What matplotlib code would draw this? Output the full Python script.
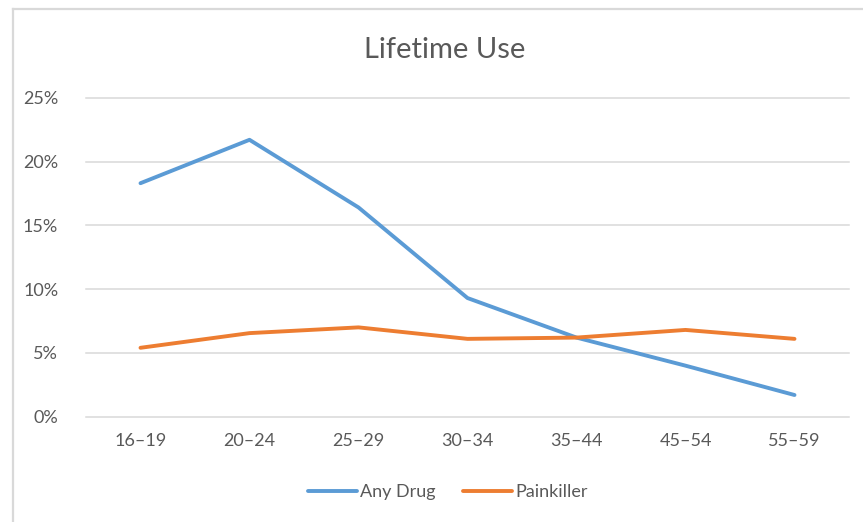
import matplotlib
matplotlib.use("Agg")
import matplotlib.pyplot as plt
from matplotlib.lines import Line2D
from matplotlib.ticker import FuncFormatter

plt.rcParams['font.family'] = ['Lato', 'DejaVu Sans']

age_groups = ["16–19", "20–24", "25–29", "30–34", "35–44", "45–54", "55–59"]
any_drug = [18.3, 21.7, 16.4, 9.3, 6.2, 4.0, 1.7]
painkiller = [5.4, 6.55, 7.0, 6.1, 6.2, 6.8, 6.1]
y_ticks = [0, 5, 10, 15, 20, 25]

text_col = "#595959"
grid_col = "#d9d9d9"

fig = plt.figure(figsize=(8.63, 5.22), dpi=100)
ax = fig.add_axes([86 / 863, 1 - 416.7 / 522, (849 - 86) / 863, (416.7 - 97.7) / 522])

x = list(range(len(age_groups)))
ax.plot(x, any_drug, color="#5B9BD5", lw=2.8, solid_capstyle="round",
        solid_joinstyle="round", label="Any Drug")
ax.plot(x, painkiller, color="#ED7D31", lw=2.8, solid_capstyle="round",
        solid_joinstyle="round", label="Painkiller")

ax.set_xlim(-0.5, len(age_groups) - 0.5)
ax.set_ylim(0, 25)
ax.set_yticks(y_ticks)
ax.yaxis.set_major_formatter(FuncFormatter(lambda v, p: f"{v:.0f}%"))
ax.set_xticks(x)
ax.set_xticklabels(age_groups)
ax.grid(axis="y", color=grid_col, lw=1.1)
for gl in ax.get_ygridlines():
    gl.set_clip_on(False)
ax.set_axisbelow(True)
for s in ax.spines.values():
    s.set_visible(False)
ax.tick_params(length=0, labelsize=13, labelcolor=text_col)
ax.tick_params(axis="x", pad=12)
ax.tick_params(axis="y", pad=20)

fig.text(445 / 863, 1 - 50 / 522, "Lifetime Use", ha="center", va="center",
         fontsize=21, color=text_col)

ax.legend(loc="center", bbox_to_anchor=(448 / 863, 1 - 492 / 522),
          bbox_transform=fig.transFigure, ncol=2, frameon=False,
          fontsize=13, labelcolor=text_col, handlelength=2.7,
          handletextpad=0.2, columnspacing=1.5)

# chart frame
fig.add_artist(Line2D([12.5 / 863, 1], [1 - 9 / 522] * 2, color=grid_col, lw=1.6,
                      transform=fig.transFigure))
fig.add_artist(Line2D([12.5 / 863] * 2, [0, 1 - 9 / 522], color=grid_col, lw=1.6,
                      transform=fig.transFigure))

fig.savefig("out.png", dpi=100, facecolor="white")
